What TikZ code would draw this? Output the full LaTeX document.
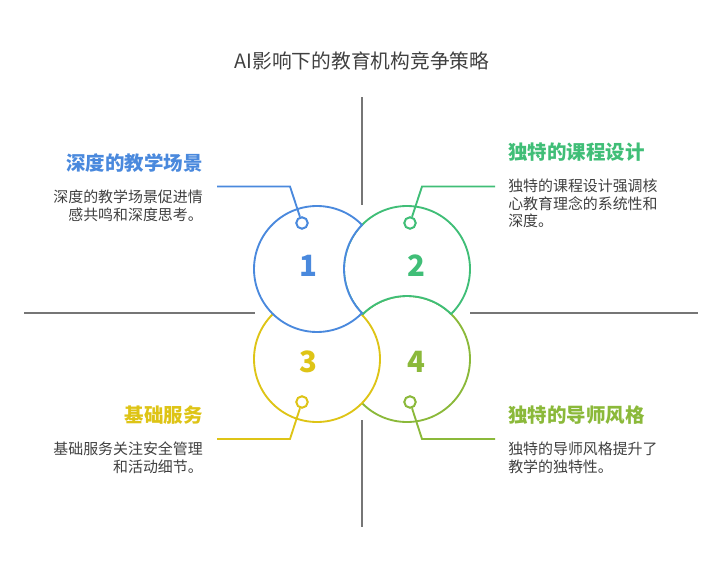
\documentclass[tikz,border=0pt]{standalone}
\usepackage{fontspec}
\setmainfont{Noto Sans CJK SC}
\usepackage{xcolor}
\usetikzlibrary{positioning}
\definecolor{cblue}{RGB}{74,137,221}
\definecolor{cgreen}{RGB}{64,190,119}
\definecolor{cyellow}{RGB}{222,196,22}
\definecolor{colive}{RGB}{139,185,58}
\definecolor{linegray}{RGB}{118,118,118}
\definecolor{txtgray}{RGB}{64,64,64}
\tikzset{
  titletext/.style={font=\fontsize{14.8}{17}\selectfont, text=txtgray, inner sep=0pt},
  headtext/.style={font=\fontsize{14.6}{17}\selectfont\bfseries, inner sep=0pt},
  bodytext/.style={font=\fontsize{11.2}{13.2}\selectfont, text=txtgray, inner sep=0pt},
  numtext/.style={font=\fontsize{22}{24}\selectfont\bfseries, inner sep=0pt},
  pinring/.style={circle, fill=white, line width=1.4pt, minimum size=8.5pt, inner sep=0pt},
  petal/.style={fill=white, line width=1.4pt},
  leader/.style={line width=1.4pt},
  crossline/.style={draw=linegray, line width=1.3pt},
}

\begin{document}
\begin{tikzpicture}[x=0.75pt, y=-0.75pt]
  \useasboundingbox (0,0) rectangle (723,578);

  %% Title
  \node[titletext] (title) at (362,61) {AI影响下的教育机构竞争策略};

  %% Cross lines
  \coordinate (vt1) at (362,97);  \coordinate (vt2) at (362,205);
  \coordinate (vb1) at (362,420); \coordinate (vb2) at (362,527);
  \coordinate (hl1) at (24,313);  \coordinate (hl2) at (255,313);
  \coordinate (hr1) at (470,313); \coordinate (hr2) at (698,313);
  \draw[crossline] (vt1) -- (vt2);
  \draw[crossline] (vb1) -- (vb2);
  \draw[crossline] (hl1) -- (hl2);
  \draw[crossline] (hr1) -- (hr2);

  %% Ring centres
  \coordinate (c1) at (317,269);
  \coordinate (c2) at (407,269);
  \coordinate (c3) at (317,359);
  \coordinate (c4) at (407,359);

  %% Rings, back to front
  \draw[petal, draw=colive]  (c4) circle[radius=63];
  \draw[petal, draw=cyellow] (c3) circle[radius=63];
  \draw[petal, draw=cgreen]  (c2) ++(45.59:63)
    arc[start angle=45.59, end angle=-225.59, radius=63]
    arc[start angle=225.59, end angle=314.41, radius=63] -- cycle;
  \draw[petal, draw=cblue]   (c1) ++(-44.41:63)
    arc[start angle=-44.41, end angle=-315.59, radius=63]
    arc[start angle=135.59, end angle=224.41, radius=63] -- cycle;

  %% Numbers
  \node[numtext, text=cblue]   (n1) at (308,266) {1};
  \node[numtext, text=cgreen]  (n2) at (416,266) {2};
  \node[numtext, text=cyellow] (n3) at (308,362) {3};
  \node[numtext, text=colive]  (n4) at (416,362) {4};

  %% Pins
  \node[pinring, draw=cblue]   (p1) at (302,223) {};
  \node[pinring, draw=cgreen]  (p2) at (410,223) {};
  \node[pinring, draw=cyellow] (p3) at (302,402) {};
  \node[pinring, draw=colive]  (p4) at (410,402) {};

  %% Leader elbows
  \coordinate (e1) at (290,186.5); \coordinate (t1) at (217,186.5);
  \coordinate (e2) at (422,186.5); \coordinate (t2) at (495,186.5);
  \coordinate (e3) at (290,439);   \coordinate (t3) at (217,439);
  \coordinate (e4) at (422,439);   \coordinate (t4) at (495,439);
  \draw[leader, draw=cblue]   (p1) -- (e1) -- (t1);
  \draw[leader, draw=cgreen]  (p2) -- (e2) -- (t2);
  \draw[leader, draw=cyellow] (p3) -- (e3) -- (t3);
  \draw[leader, draw=colive]  (p4) -- (e4) -- (t4);
  \node[pinring, draw=cblue]   at (p1) {};
  \node[pinring, draw=cgreen]  at (p2) {};
  \node[pinring, draw=cyellow] at (p3) {};
  \node[pinring, draw=colive]  at (p4) {};

  %% Headings
  \node[headtext, text=cblue,   anchor=east] (h1) at (203,163) {深度的教学场景};
  \node[headtext, text=cgreen,  anchor=west] (h2) at (508,152) {独特的课程设计};
  \node[headtext, text=cyellow, anchor=east] (h3) at (203,415) {基础服务};
  \node[headtext, text=colive,  anchor=west] (h4) at (508,415) {独特的导师风格};

  %% Descriptions
  \node[bodytext, align=right, below=13pt of h1.south east, anchor=north east] (b1)
    {深度的教学场景促进情\\感共鸣和深度思考。};
  \node[bodytext, align=left, below=13pt of h2.south west, anchor=north west] (b2)
    {独特的课程设计强调核\\心教育理念的系统性和\\深度。};
  \node[bodytext, align=right, below=13pt of h3.south east, anchor=north east] (b3)
    {基础服务关注安全管理\\和活动细节。};
  \node[bodytext, align=left, below=13pt of h4.south west, anchor=north west] (b4)
    {独特的导师风格提升了\\教学的独特性。};

\end{tikzpicture}
\end{document}
